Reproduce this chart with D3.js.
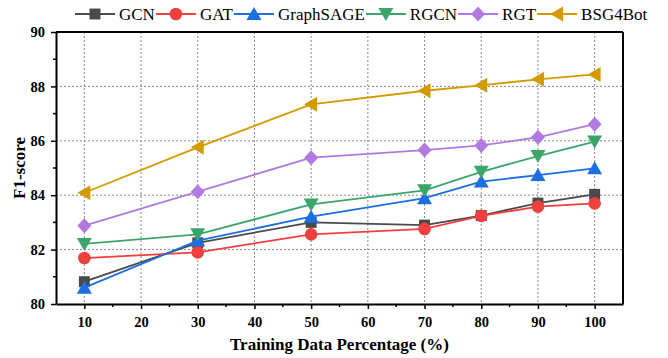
<!DOCTYPE html>
<html lang="en">
<head>
<meta charset="utf-8">
<title>F1-score vs training data percentage</title>
<script src="https://cdn.jsdelivr.net/npm/d3@7"></script>
<style>
  body { margin: 0; background: #fff; }
</style>
</head>
<body>
<script>
// data
var trainPct = [10, 30, 50, 70, 80, 90, 100];
var xTicks = [10, 20, 30, 40, 50, 60, 70, 80, 90, 100];
var yTicks = [80, 82, 84, 86, 88, 90];

var gcn       = [80.82, 82.25, 83.00, 82.90, 83.25, 83.71, 84.03];
var gat       = [81.69, 81.90, 82.56, 82.76, 83.24, 83.58, 83.70];
var graphsage = [80.60, 82.33, 83.21, 83.89, 84.50, 84.74, 84.99];
var rgcn      = [82.21, 82.56, 83.66, 84.18, 84.86, 85.44, 85.97];
var rgt       = [82.88, 84.13, 85.38, 85.66, 85.83, 86.13, 86.61];
var bsg4bot   = [84.09, 85.76, 87.34, 87.84, 88.04, 88.26, 88.44];

var seriesNames = ["GCN", "GAT", "GraphSAGE", "RGCN", "RGT", "BSG4Bot"];
var seriesData = [gcn, gat, graphsage, rgcn, rgt, bsg4bot];
var colors = ["#4a4a4a", "#ef4040", "#1c6fe0", "#3aa66a", "#b27ae0", "#d49b00"];
var shapes = ["square", "circle", "up", "down", "diamond", "left"];

var FONT = "'Liberation Serif', 'Times New Roman', serif";

var W = 668, H = 358;
var margin = {top: 32, right: 45, bottom: 54, left: 56};
var iw = W - margin.left - margin.right;
var ih = H - margin.top - margin.bottom;

var svg = d3.select("body").append("svg")
  .attr("width", W).attr("height", H)
  .attr("font-family", FONT);

var x = d3.scaleLinear().domain([5, 105]).range([0, iw]);
var y = d3.scaleLinear().domain([80, 90]).range([ih, 0]);

var g = svg.append("g").attr("transform", "translate(" + margin.left + "," + margin.top + ")");

// grid
g.selectAll(".vgrid").data(xTicks).enter().append("line")
  .attr("x1", function(d) { return x(d); }).attr("x2", function(d) { return x(d); })
  .attr("y1", 0).attr("y2", ih)
  .attr("stroke", "#888").attr("stroke-width", 1).attr("stroke-dasharray", "2,2");
g.selectAll(".hgrid").data(yTicks.slice(1, -1)).enter().append("line")
  .attr("y1", function(d) { return y(d); }).attr("y2", function(d) { return y(d); })
  .attr("x1", 0).attr("x2", iw)
  .attr("stroke", "#888").attr("stroke-width", 1).attr("stroke-dasharray", "2,2");

// minor ticks
var xMinor = d3.range(15, 105, 10);
var yMinor = d3.range(81, 90, 2);
g.selectAll(".xminor").data(xMinor).enter().append("line")
  .attr("x1", function(d) { return x(d); }).attr("x2", function(d) { return x(d); })
  .attr("y1", ih).attr("y2", ih + 3).attr("stroke", "#000").attr("stroke-width", 1.5);
g.selectAll(".yminor").data(yMinor).enter().append("line")
  .attr("y1", function(d) { return y(d); }).attr("y2", function(d) { return y(d); })
  .attr("x1", 0).attr("x2", -3).attr("stroke", "#000").attr("stroke-width", 1.5);

// axes
var xAxis = g.append("g").attr("transform", "translate(0," + ih + ")")
  .call(d3.axisBottom(x).tickValues(xTicks).tickSize(5).tickSizeOuter(0).tickPadding(8));
var yAxis = g.append("g")
  .call(d3.axisLeft(y).tickValues(yTicks).tickSize(5).tickSizeOuter(0).tickPadding(6));
[xAxis, yAxis].forEach(function(a) {
  a.attr("font-family", FONT).attr("font-size", 14.5).attr("font-weight", "bold");
  a.selectAll(".tick text").attr("fill", "#000");
  a.select(".domain").attr("stroke", "#000").attr("stroke-width", 2);
  a.selectAll(".tick line").attr("stroke", "#000").attr("stroke-width", 1.5);
});

// frame top / right
g.append("line").attr("x1", 0).attr("x2", iw).attr("y1", 0).attr("y2", 0)
  .attr("stroke", "#000").attr("stroke-width", 2);
g.append("line").attr("x1", iw).attr("x2", iw).attr("y1", 0).attr("y2", ih)
  .attr("stroke", "#000").attr("stroke-width", 2);

// axis titles
svg.append("text")
  .attr("x", margin.left + x(55)).attr("y", 350)
  .attr("text-anchor", "middle").attr("font-weight", "bold").attr("font-size", 17)
  .text("Training Data Percentage (%)");
svg.append("text")
  .attr("transform", "translate(25," + 168 + ") rotate(-90)")
  .attr("text-anchor", "middle").attr("font-weight", "bold").attr("font-size", 17)
  .text("F1-score");

function marker(sel, shape, color) {
  var p;
  if (shape === "square") p = d3.symbol().type(d3.symbolSquare).size(120)();
  else if (shape === "circle") p = d3.symbol().type(d3.symbolCircle).size(125)();
  else if (shape === "diamond") p = "M0,-7.5L7,0L0,7.5L-7,0Z";
  else if (shape === "up") p = "M0,-7L7.5,6L-7.5,6Z";
  else if (shape === "down") p = "M0,7L7.5,-6L-7.5,-6Z";
  else if (shape === "left") p = "M-7,0L6,-7.5L6,7.5Z";
  sel.append("path").attr("d", p).attr("fill", color);
}

var line = d3.line()
  .x(function(d, i) { return x(trainPct[i]); })
  .y(function(d) { return y(d); });

seriesData.forEach(function(vals, s) {
  g.append("path").datum(vals)
    .attr("d", line).attr("fill", "none")
    .attr("stroke", colors[s]).attr("stroke-width", 1.8);
  vals.forEach(function(v, i) {
    var m = g.append("g").attr("transform", "translate(" + x(trainPct[i]) + "," + y(v) + ")");
    marker(m, shapes[s], colors[s]);
  });
});

// legend: line, marker, label, each item right after the previous label
var legend = svg.append("g").attr("transform", "translate(0,14)");
var lx = 75;
seriesNames.forEach(function(name, s) {
  var lg = legend.append("g").attr("transform", "translate(" + lx + ",0)");
  lg.append("line").attr("x1", 0).attr("x2", 40).attr("y1", 0).attr("y2", 0)
    .attr("stroke", colors[s]).attr("stroke-width", 1.8);
  var m = lg.append("g").attr("transform", "translate(20,0)");
  marker(m, shapes[s], colors[s]);
  var t = lg.append("text").attr("x", 44).attr("y", 5.5)
    .attr("font-size", 17).attr("fill", "#000").text(name);
  lx += 44 + t.node().getComputedTextLength() + 1;
});
</script>
</body>
</html>
